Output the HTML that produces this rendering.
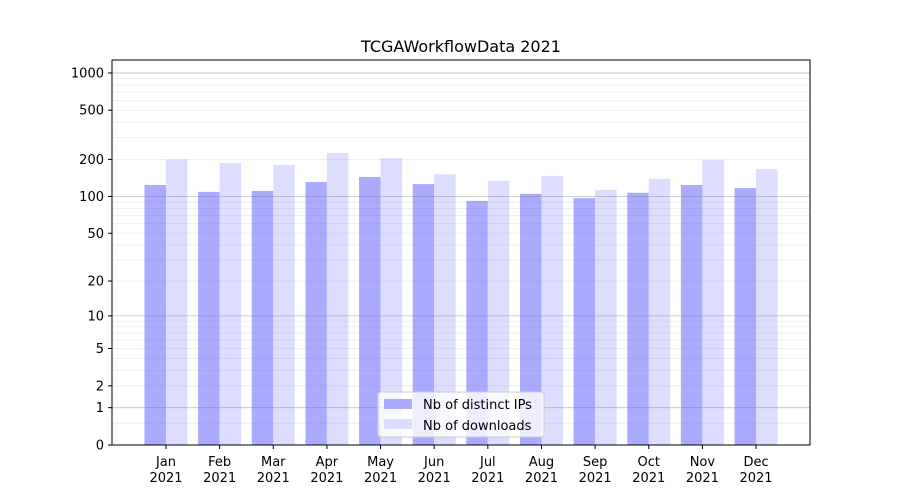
<!DOCTYPE html>
<html><head><meta charset="utf-8">
<style>
html,body{margin:0;padding:0;background:#fff;}
svg{display:block;font-family:"DejaVu Sans","Liberation Sans",sans-serif;}
</style></head>
<body>
<svg id="c" width="900" height="500" viewBox="0 0 900 500" xmlns="http://www.w3.org/2000/svg">
<rect width="900" height="500" fill="#fff"/>
<text x="461" y="52" font-size="16" text-anchor="middle" fill="#000">TCGAWorkflowData 2021</text>
<g id="bars"></g>
<g id="grid"></g>
<rect x="112" y="60" width="698" height="385" fill="none" stroke="#000" stroke-width="1"/>
<g id="ticks" font-size="13" fill="#000"></g>
<g>
<rect x="378" y="392" width="166" height="45" rx="3" fill="#fff" fill-opacity="0.8" stroke="#ccc"/>
<rect x="384" y="399" width="28" height="10" fill="#aaaaff"/>
<text x="423" y="409" font-size="13">Nb of distinct IPs</text>
<rect x="384" y="419" width="28" height="10" fill="#ddddff"/>
<text x="423" y="430" font-size="13">Nb of downloads</text>
</g>
</svg>
<script>
var NS="http://www.w3.org/2000/svg";
function Y(v){return 445-Math.log10(1+v)*124;}
function el(p,t,a,txt){var e=document.createElementNS(NS,t);for(var k in a)e.setAttribute(k,a[k]);if(txt!==undefined)e.textContent=txt;document.getElementById(p).appendChild(e);}
[0.5,2,3,4,5,6,7,8,9,20,30,40,50,60,70,80,90,200,300,400,500,600,700,800,900].forEach(function(v){var y=Y(v);el("grid","line",{x1:112,x2:810,y1:y,y2:y,stroke:"#808080","stroke-opacity":0.15,"stroke-width":0.8});});
[1,10,100,1000].forEach(function(v){var y=Y(v);el("grid","line",{x1:112,x2:810,y1:y,y2:y,stroke:"#808080","stroke-opacity":0.5,"stroke-width":0.8});});
var d=[124,109,111,131,144,126,92,105,97,107,124,117];
var l=[200,187,180,225,205,152,134,147,113,139,198,167];
var m=["Jan","Feb","Mar","Apr","May","Jun","Jul","Aug","Sep","Oct","Nov","Dec"];
for(var i=0;i<12;i++){var cx=166+i*53.64;
el("bars","rect",{x:cx-21.5,y:Y(d[i]),width:21.5,height:445-Y(d[i]),fill:"#aaaaff"});
el("bars","rect",{x:cx,y:Y(l[i]),width:21.5,height:445-Y(l[i]),fill:"#ddddff"});
el("ticks","line",{x1:cx,x2:cx,y1:445,y2:449,stroke:"#000"});
el("ticks","text",{x:cx,y:466,"text-anchor":"middle"},m[i]);
el("ticks","text",{x:cx,y:482,"text-anchor":"middle"},"2021");}
[0,1,2,5,10,20,50,100,200,500,1000].forEach(function(v){var y=Y(v);
el("ticks","line",{x1:108,x2:112,y1:y,y2:y,stroke:"#000"});
el("ticks","text",{x:104,y:y+4.5,"text-anchor":"end"},String(v));});
</script>
</body></html>
